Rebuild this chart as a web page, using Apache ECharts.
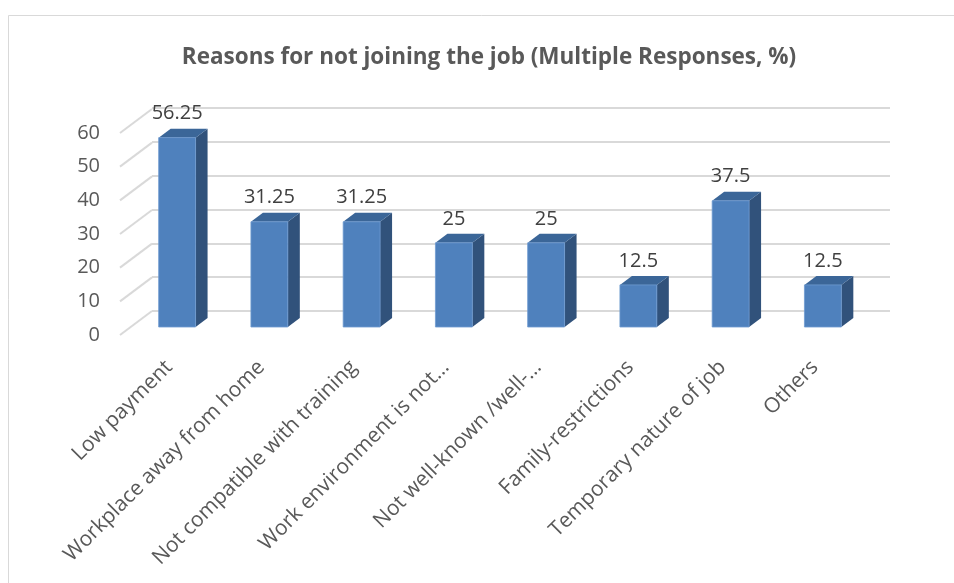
<!DOCTYPE html>
<html>
<head>
<meta charset="utf-8">
<script src="https://cdn.jsdelivr.net/npm/echarts@6/dist/echarts.min.js"></script>
<style>
  html, body { margin: 0; padding: 0; background: #ffffff; }
  #chart { width: 954px; height: 583px; }
</style>
</head>
<body>
<div id="chart"></div>
<script>
// Reasons for not joining the job, share of respondents (%)
const categories = [
  'Low payment',
  'Workplace away from home',
  'Not compatible with training',
  'Work environment is not…',
  'Not well-known /well-…',
  'Family-restrictions',
  'Temporary nature of job',
  'Others'
];
const values = [56.25, 31.25, 31.25, 25, 25, 12.5, 37.5, 12.5];
const yTicks = [0, 10, 20, 30, 40, 50, 60];
const yMax = 60;
const yStep = 10;

// oblique depth vectors used for the 3D look
const WALL_DX = 32, WALL_DY = -24;   // front-left edge to back wall
const BAR_DX = 12, BAR_DY = -9;      // front face to back face of a column

const FRONT = '#4f81bd';
const SIDE = '#31527b';
const TOP = '#3b6698';
const TEXT = '#595959';
const LABEL = '#404040';
const GRID_LINE = '#d9d9d9';
const FONT = '"Open Sans", "Noto Sans", sans-serif';

const chart = echarts.init(document.getElementById('chart'), null, { renderer: 'canvas' });

const option = {
  backgroundColor: '#ffffff',
  animation: false,
  title: {
    text: 'Reasons for not joining the job (Multiple Responses, %)',
    left: 484,
    top: 41,
    textAlign: 'center',
    textStyle: {
      fontFamily: FONT,
      fontWeight: 'bold',
      fontSize: 22.5,
      color: TEXT
    }
  },
  graphic: [{
    type: 'rect',
    shape: { x: 8.5, y: 15.5, width: 1000, height: 700 },
    style: { fill: 'none', stroke: GRID_LINE, lineWidth: 1 },
    silent: true
  }],
  grid: [
    // back wall
    { left: 152, top: 108, width: 738, height: 203 },
    // front-left edge carrying the value labels
    { left: 120, top: 133, width: 738, height: 202 },
    // plane of the column front faces
    { left: 131, top: 125, width: 738, height: 202 },
    // front floor edge carrying the category labels
    { left: 123, top: 133, width: 738, height: 202 }
  ],
  xAxis: [
    { gridIndex: 0, type: 'category', data: categories, show: false },
    { gridIndex: 1, type: 'category', data: categories, show: false },
    { gridIndex: 2, type: 'category', data: categories, show: false },
    {
      gridIndex: 3, type: 'category', data: categories,
      axisLine: { show: false }, axisTick: { show: false },
      axisLabel: {
        rotate: 45, interval: 0, margin: 29,
        fontFamily: FONT, fontSize: 21, color: TEXT
      }
    }
  ],
  yAxis: [
    {
      gridIndex: 0, type: 'value', min: 0, max: yMax, interval: yStep,
      axisLabel: { show: false }, axisLine: { show: false }, axisTick: { show: false },
      splitLine: { show: true, lineStyle: { color: GRID_LINE, width: 2 } }
    },
    {
      gridIndex: 1, type: 'value', min: 0, max: yMax, interval: yStep,
      axisLine: { show: false }, axisTick: { show: false }, splitLine: { show: false },
      axisLabel: {
        margin: 20, fontFamily: FONT, fontSize: 20, color: TEXT,
        padding: [5, 0, 0, 0]
      }
    },
    { gridIndex: 2, type: 'value', min: 0, max: yMax, interval: yStep, show: false },
    { gridIndex: 3, type: 'value', min: 0, max: yMax, interval: yStep, show: false }
  ],
  series: [
    {
      // left wall lines joining each front tick to its back-wall gridline
      type: 'custom',
      xAxisIndex: 1, yAxisIndex: 1,
      silent: true,
      data: yTicks.map(function (t) { return [0, t]; }),
      renderItem: function (params, api) {
        const p = api.coord([0, api.value(1)]);
        const x0 = params.coordSys.x;
        return {
          type: 'line',
          shape: { x1: x0, y1: p[1], x2: x0 + WALL_DX, y2: p[1] + WALL_DY },
          style: { stroke: GRID_LINE, lineWidth: 2 }
        };
      }
    },
    {
      // 3D columns with their value labels
      type: 'custom',
      xAxisIndex: 2, yAxisIndex: 2,
      data: values.map(function (v, i) { return [i, v]; }),
      renderItem: function (params, api) {
        const i = api.value(0);
        const v = api.value(1);
        const base = api.coord([i, 0]);
        const top = api.coord([i, v]);
        const w = api.size([1, 0])[0] * 0.4;
        const l = top[0] - w / 2, r = top[0] + w / 2;
        const yt = top[1], yb = base[1];
        return {
          type: 'group',
          children: [
            {
              type: 'polygon',
              shape: { points: [[r, yt], [r + BAR_DX, yt + BAR_DY], [r + BAR_DX, yb + BAR_DY], [r, yb]] },
              style: { fill: SIDE }
            },
            {
              type: 'polygon',
              shape: { points: [[l, yt], [l + BAR_DX, yt + BAR_DY], [r + BAR_DX, yt + BAR_DY], [r, yt]] },
              style: { fill: TOP }
            },
            {
              type: 'rect',
              shape: { x: l, y: yt, width: w, height: yb - yt },
              style: { fill: FRONT, stroke: '#6f9bd1', lineWidth: 0.8 }
            },
            {
              type: 'text',
              x: top[0],
              y: yt + BAR_DY - 5,
              style: {
                text: String(v),
                align: 'center',
                verticalAlign: 'bottom',
                font: '20px ' + FONT,
                fill: LABEL
              }
            }
          ]
        };
      }
    }
  ]
};

chart.setOption(option);
</script>
</body>
</html>
